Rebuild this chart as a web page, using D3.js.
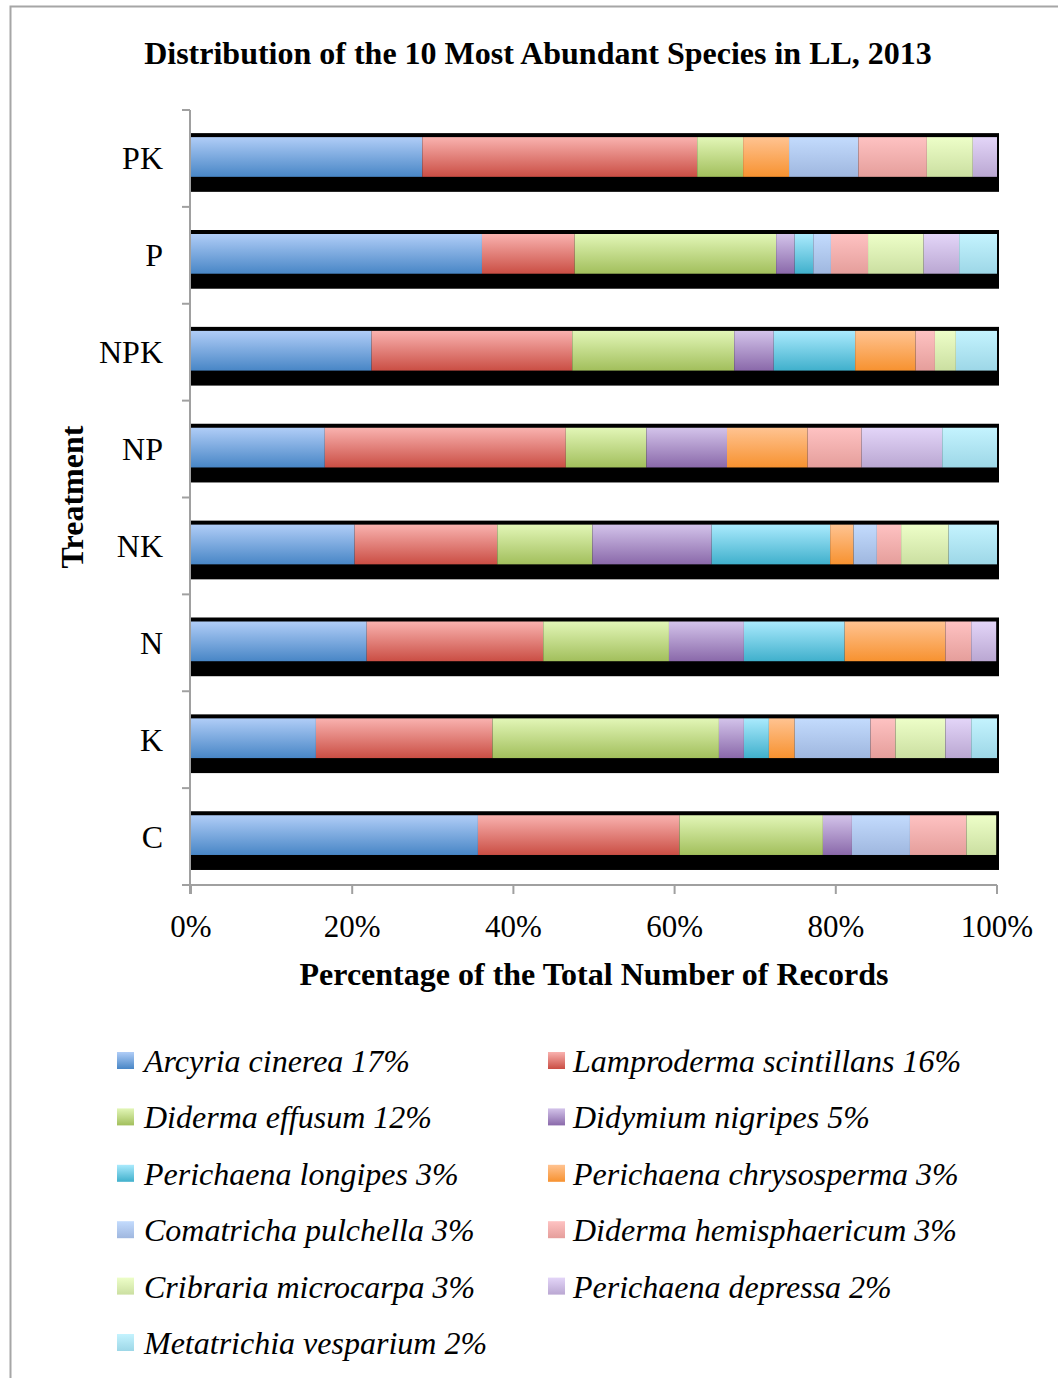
<!DOCTYPE html>
<html>
<head>
<meta charset="utf-8">
<script src="https://cdn.jsdelivr.net/npm/d3@7"></script>
<style>
  body { margin: 0; background: #fff; }
  svg { display: block; font-family: "Liberation Serif", "Times New Roman", serif; }
</style>
</head>
<body>
<svg width="1058" height="1378"></svg>
<script>
// Treatments, top to bottom as drawn
const treatments = ["PK", "P", "NPK", "NP", "NK", "N", "K", "C"];

// Species names and overall share shown in the legend
const species = [
    "Arcyria cinerea", "Lamproderma scintillans", "Diderma effusum", "Didymium nigripes",
    "Perichaena longipes", "Perichaena chrysosperma", "Comatricha pulchella",
    "Diderma hemisphaericum", "Cribraria microcarpa", "Perichaena depressa", "Metatrichia vesparium"
];
const overall = [17, 16, 12, 5, 3, 3, 3, 3, 3, 2, 2];

// Percent of records per treatment, one array per species (order = treatments)
const arcyria     = [28.7, 36.1, 22.4, 16.6, 20.3, 21.8, 15.5, 35.6];
const lamproderma = [34.1, 11.5, 24.9, 29.9, 17.7, 21.9, 21.9, 25.0];
const dEffusum    = [5.7, 25.0, 20.1, 10.0, 11.8, 15.6, 28.1, 17.8];
const didymium    = [0, 2.3, 4.9, 10.0, 14.8, 9.3, 3.1, 3.6];
const pLongipes   = [0, 2.3, 10.1, 0, 14.7, 12.5, 3.1, 0];
const pChryso     = [5.7, 0, 7.5, 10.0, 2.9, 12.5, 3.2, 0];
const comatricha  = [8.6, 2.2, 0, 0, 2.9, 0, 9.4, 7.2];
const dHemi       = [8.5, 4.6, 2.4, 6.7, 3.0, 3.2, 3.1, 7.0];
const cribraria   = [5.7, 6.9, 2.6, 0, 5.9, 0, 6.2, 3.7];
const pDepressa   = [3.0, 4.4, 0, 10.0, 0, 3.1, 3.2, 0];
const metatrichia = [0, 4.7, 5.1, 6.8, 6.0, 0, 3.2, 0];

const seriesValues = [arcyria, lamproderma, dEffusum, didymium, pLongipes, pChryso,
    comatricha, dHemi, cribraria, pDepressa, metatrichia];

const xTicks = [0, 20, 40, 60, 80, 100];

// Gradient colours: [top, bottom]
const gradColors = [
    ["#b0cdf7", "#4886c6"], ["#f9b2af", "#ca4e44"], ["#e2f6b7", "#a2bf5c"],
    ["#d3c3ea", "#8a69aa"], ["#aaeafd", "#40b0cc"], ["#ffc391", "#f79230"],
    ["#c3dbfd", "#9fb7df"], ["#fec2c2", "#e59e9b"], ["#edfec8", "#cbdfa1"],
    ["#e3d5f8", "#baa7d2"], ["#c4f3fe", "#9dd7e7"]
];

const svg = d3.select("svg");

// Build table rows for stacking
const rows = treatments.map((t, i) => {
    const r = { treatment: t };
    species.forEach((s, j) => { r[s] = seriesValues[j][i]; });
    return r;
});
const stacked = d3.stack().keys(species)(rows);

const margin = { left: 191, right: 997, top: 110, bottom: 885 };
const x = d3.scaleLinear().domain([0, 100]).range([margin.left, margin.right]);
const y = d3.scaleBand().domain(treatments).range([margin.top, margin.bottom]);
const bw = y.bandwidth();

// Gradients
const defs = svg.append("defs");
gradColors.forEach((c, i) => {
    const g = defs.append("linearGradient").attr("id", "g" + i)
        .attr("x1", 0).attr("y1", 0).attr("x2", 0).attr("y2", 1);
    g.append("stop").attr("offset", "0%").attr("stop-color", c[0]);
    g.append("stop").attr("offset", "100%").attr("stop-color", c[1]);
});

// Outer frame (only top and left edges are visible)
svg.append("path").attr("d", "M10.5,1378 V6.5 H1058")
    .attr("fill", "none").attr("stroke", "#a6a6a6").attr("stroke-width", 2);

// Title
svg.append("text").attr("x", 538).attr("y", 64).attr("text-anchor", "middle")
    .style("font-weight", "bold").style("font-size", "32px")
    .text("Distribution of the 10 Most Abundant Species in LL, 2013");

// Black shadow behind each bar
const barTop = t => y(t) + bw * 0.28;
const barH = bw * 0.41;
svg.append("g").selectAll("rect").data(treatments).join("rect")
    .attr("x", x(0))
    .attr("y", d => barTop(d) - 4)
    .attr("width", x(100) - x(0) + 2)
    .attr("height", barH + 19)
    .attr("fill", "#000");

// Stacked segments
svg.append("g").selectAll("g").data(stacked).join("g")
    .attr("fill", (d, i) => "url(#g" + i + ")")
    .selectAll("rect").data(d => d.filter(p => p[1] - p[0] > 0)).join("rect")
    .attr("x", d => x(d[0]))
    .attr("y", d => barTop(d.data.treatment))
    .attr("width", d => x(d[1]) - x(d[0]))
    .attr("height", barH);

// Y axis
const yAxis = svg.append("g").attr("transform", "translate(190,0)");
yAxis.append("line").attr("x1", 0).attr("x2", 0).attr("y1", margin.top).attr("y2", margin.bottom + 9)
    .attr("stroke", "#a0a0a0").attr("stroke-width", 2);
const yTickPos = treatments.map(t => y(t)).concat([margin.bottom]);
yAxis.selectAll("line.tk").data(yTickPos).join("line").attr("class", "tk")
    .attr("x1", -8).attr("x2", 0).attr("y1", d => d).attr("y2", d => d)
    .attr("stroke", "#a0a0a0").attr("stroke-width", 2);
yAxis.selectAll("text").data(treatments).join("text")
    .attr("x", -27).attr("y", d => y(d) + bw / 2 + 11)
    .attr("text-anchor", "end").style("font-size", "32px")
    .text(d => d);

// X axis
const xAxis = svg.append("g");
xAxis.append("line").attr("x1", 182).attr("x2", x(100)).attr("y1", margin.bottom).attr("y2", margin.bottom)
    .attr("stroke", "#a0a0a0").attr("stroke-width", 2);
xAxis.selectAll("line.tk").data(xTicks).join("line").attr("class", "tk")
    .attr("x1", d => x(d)).attr("x2", d => x(d)).attr("y1", margin.bottom).attr("y2", margin.bottom + 9)
    .attr("stroke", "#a0a0a0").attr("stroke-width", 2);
xAxis.selectAll("text").data(xTicks).join("text")
    .attr("x", d => x(d)).attr("y", 937)
    .attr("text-anchor", "middle").style("font-size", "31px")
    .text(d => d + "%");

// Axis titles
svg.append("text").attr("x", 594).attr("y", 985).attr("text-anchor", "middle")
    .style("font-weight", "bold").style("font-size", "32px")
    .text("Percentage of the Total Number of Records");
svg.append("text").attr("transform", "translate(83,497) rotate(-90)").attr("text-anchor", "middle")
    .style("font-weight", "bold").style("font-size", "32px")
    .text("Treatment");

// Legend
const legend = svg.append("g").selectAll("g").data(species).join("g")
    .attr("transform", (d, i) => `translate(${i % 2 === 0 ? 117 : 548},${1061 + Math.floor(i / 2) * 56.4})`);
legend.append("rect").attr("x", 0).attr("y", -9).attr("width", 17).attr("height", 17)
    .attr("fill", (d, i) => "url(#g" + i + ")");
legend.append("text").attr("x", (d, i) => i % 2 === 0 ? 27 : 25).attr("y", 11)
    .style("font-style", "italic").style("font-size", "32px")
    .text((d, i) => d + " " + overall[i] + "%");
</script>
</body>
</html>
